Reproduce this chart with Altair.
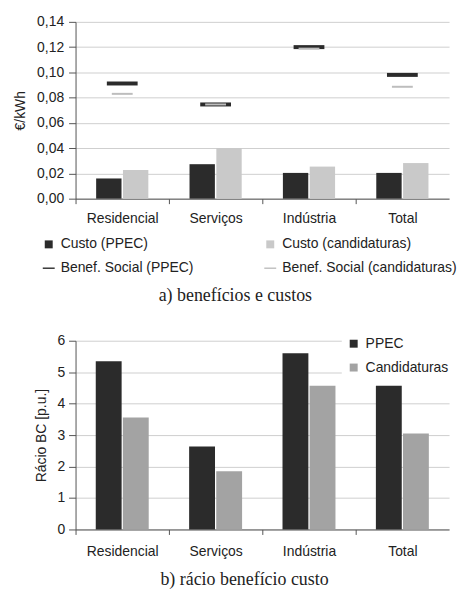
import altair as alt
import pandas as pd

# ---- data ----
categorias = ["Residencial", "Serviços", "Indústria", "Total"]

custo_ppec = [0.0160, 0.0273, 0.0204, 0.0204]
custo_cand = [0.0227, 0.0402, 0.0254, 0.0282]
benef_ppec = [0.0912, 0.0746, 0.1200, 0.0980]
benef_cand = [0.0830, 0.0746, 0.1188, 0.0886]

racio_ppec = [5.35, 2.64, 5.60, 4.57]
racio_cand = [3.56, 1.85, 4.57, 3.05]

series_a = ["Custo (PPEC)", "Custo (candidaturas)",
            "Benef. Social (PPEC)", "Benef. Social (candidaturas)"]
series_b = ["PPEC", "Candidaturas"]

ticks_a = [0.0, 0.02, 0.04, 0.06, 0.08, 0.10, 0.12, 0.14]
ticks_b = [0, 1, 2, 3, 4, 5, 6]

caption_a = "a) benefícios e custos"
caption_b = "b) rácio benefício custo"

# ---- tables ----
df_custo = pd.DataFrame({
    "cat": categorias * 2,
    "serie": [series_a[0]] * 4 + [series_a[1]] * 4,
    "v": custo_ppec + custo_cand,
})
df_bp = pd.DataFrame({"cat": categorias, "serie": series_a[2], "v": benef_ppec})
df_bc = pd.DataFrame({"cat": categorias, "serie": series_a[3], "v": benef_cand})
df_leg = pd.DataFrame({"cat": categorias, "serie": series_a, "v": [0, 0, 0, 0]})
df_racio = pd.DataFrame({
    "cat": categorias * 2,
    "serie": [series_b[0]] * 4 + [series_b[1]] * 4,
    "v": racio_ppec + racio_cand,
})

FONT = "Liberation Sans"
DARK = "#2b2b2b"

W_A, H_A = 376, 178
W_B, H_B = 376, 190
step_a = W_A / 4
step_b = W_B / 4

SQ = "M-0.8,-0.8H0.8V0.8H-0.8Z"
DASH = "M-1.2,-0.14H1.2V0.14H-1.2Z"

color_a = alt.Scale(domain=series_a, range=[DARK, "#c9c9c9", DARK, "#bdbdbd"])
shape_a = alt.Scale(domain=series_a, range=[SQ, SQ, DASH, DASH])

x_a = alt.X("cat:N", sort=categorias,
            scale=alt.Scale(paddingInner=0, paddingOuter=0),
            axis=alt.Axis(title=None, labelAngle=0, tickOffset=-step_a / 2,
                          labelOffset=step_a / 2, labelPadding=8, tickSize=5))
y_a = alt.Y("v:Q", scale=alt.Scale(domain=[0, 0.14], nice=False),
            axis=alt.Axis(title="€/kWh", values=ticks_a, tickSize=7, labelPadding=5,
                          titlePadding=9,
                          labelExpr="replace(format(datum.value, '.2f'), '.', ',')"))

legend_a = alt.Legend(title=None, orient="none", legendX=-34, legendY=217,
                      direction="horizontal", columns=2, columnPadding=70,
                      rowPadding=10, symbolSize=100, labelLimit=300,
                      labelFontSize=14, labelFont=FONT, labelColor="#222",
                      symbolStrokeWidth=0, labelOffset=5)

bars_a = alt.Chart(df_custo).mark_bar().encode(
    x=x_a,
    xOffset=alt.XOffset("serie:N", sort=series_a[:2],
                        scale=alt.Scale(paddingInner=0.054, paddingOuter=0.768)),
    y=y_a,
    color=alt.Color("serie:N", scale=color_a, legend=legend_a),
)
tick_p = alt.Chart(df_bp).mark_tick(size=31, thickness=4, opacity=1).encode(
    x=x_a, y=y_a, color=alt.Color("serie:N", scale=color_a, legend=legend_a))
tick_c = alt.Chart(df_bc).mark_tick(size=21, thickness=2, opacity=1).encode(
    x=x_a, y=y_a, color=alt.Color("serie:N", scale=color_a, legend=legend_a))
leg_pts = alt.Chart(df_leg).mark_point(filled=True, opacity=1).encode(
    x=x_a, y=y_a,
    color=alt.Color("serie:N", scale=color_a, legend=legend_a),
    shape=alt.Shape("serie:N", scale=shape_a, legend=legend_a),
).transform_filter("datum.v > 1")

top = alt.layer(bars_a, tick_p, tick_c, leg_pts).properties(
    width=W_A, height=H_A,
    title=alt.TitleParams(caption_a, orient="bottom", anchor="middle", frame="bounds",
                          font="Liberation Serif", fontSize=18, fontWeight="normal",
                          color="#222", offset=12),
)

# ---- bottom chart ----
x_b = alt.X("cat:N", sort=categorias,
            scale=alt.Scale(paddingInner=0, paddingOuter=0),
            axis=alt.Axis(title=None, labelAngle=0, tickOffset=-step_b / 2,
                          labelOffset=step_b / 2, labelPadding=10, tickSize=5))
y_b = alt.Y("v:Q", scale=alt.Scale(domain=[0, 6], nice=False),
            axis=alt.Axis(title="Rácio BC [p.u.]", values=ticks_b, tickSize=7,
                          labelPadding=4, titlePadding=8, format="d"))

legend_b = alt.Legend(title=None, orient="none", legendX=W_B - 108, legendY=-9,
                      fillColor="white", padding=5, rowPadding=10, symbolSize=100,
                      symbolType=SQ, labelFontSize=14, labelFont=FONT,
                      labelColor="#222", labelOffset=5)

bars_b = alt.Chart(df_racio).mark_bar().encode(
    x=x_b,
    xOffset=alt.XOffset("serie:N", sort=series_b,
                        scale=alt.Scale(paddingInner=0.045, paddingOuter=0.746)),
    y=y_b,
    color=alt.Color("serie:N", sort=series_b,
                    scale=alt.Scale(domain=series_b, range=[DARK, "#a3a3a3"]),
                    legend=legend_b),
).properties(
    width=W_B, height=H_B,
    title=alt.TitleParams(caption_b, orient="bottom", anchor="middle", frame="bounds",
                          font="Liberation Serif", fontSize=18, fontWeight="normal",
                          color="#222", offset=13),
)

chart = alt.vconcat(top, bars_b, spacing=27).resolve_scale(
    color="independent", shape="independent", x="independent", y="independent",
    xOffset="independent",
).resolve_legend(color="independent", shape="independent").properties(
    padding={"left": 5, "top": 5, "right": 0, "bottom": 0}, background="white"
).configure_view(stroke=None).configure_axis(
    labelFont=FONT, labelFontSize=14, labelColor="#222",
    titleFont=FONT, titleFontSize=14, titleColor="#222", titleFontWeight="normal",
    domainColor="#555", tickColor="#555", gridColor="#cfcfcf",
).configure_axisX(grid=False)

chart.save("out.html", embed_options={"renderer": "svg", "actions": False})
